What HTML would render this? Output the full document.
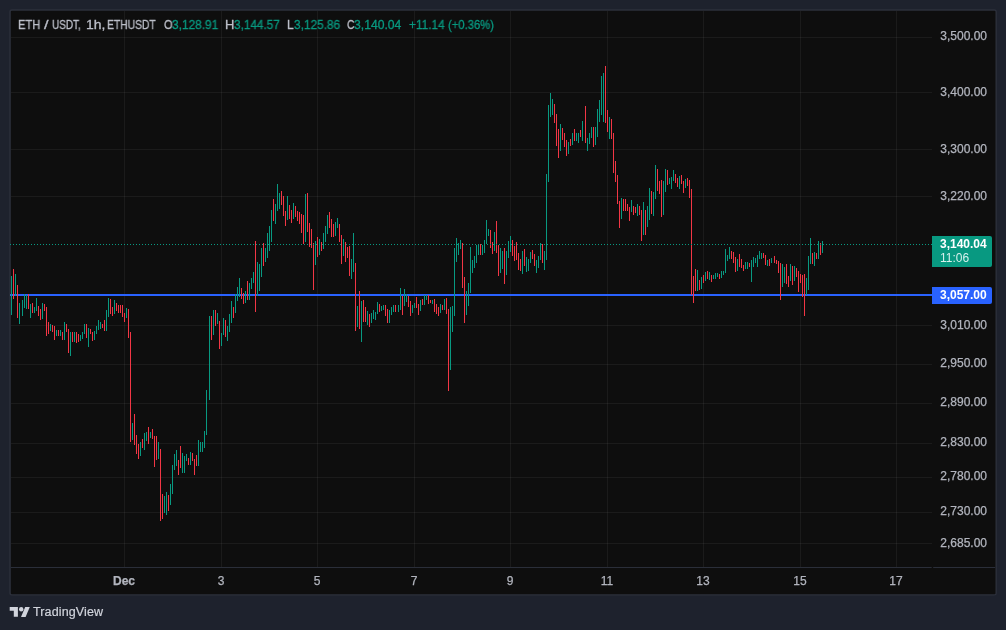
<!DOCTYPE html>
<html><head><meta charset="utf-8"><title>ETHUSDT</title>
<style>
html,body{margin:0;padding:0;background:#1e222d;}
body{width:1006px;height:630px;background:#1e222d;position:relative;overflow:hidden;font-family:"Liberation Sans",sans-serif;}
svg{position:absolute;left:0;top:0;}
.pl{position:absolute;left:932px;width:55px;text-align:right;font-size:12px;line-height:16px;color:#b2b5be;}
.tl{position:absolute;top:573px;width:60px;text-align:center;font-size:12px;line-height:16px;color:#b2b5be;}
.tl.b{font-weight:bold;}
.lg{position:absolute;top:17px;font-size:12px;line-height:16px;color:#bcbfc9;white-space:nowrap;transform-origin:0 0;display:block;-webkit-text-stroke:0.3px;will-change:transform;}
.lg.v{color:#089981;}
#cur{position:absolute;left:932px;top:236px;width:60px;height:31px;background:#089981;border-radius:0 2px 2px 0;color:#fff;font-size:12px;}
#cur div{position:absolute;left:8px;white-space:nowrap;line-height:14px;}
#lvl{position:absolute;left:932px;top:287px;width:60px;height:17px;background:#2962ff;border-radius:0 2px 2px 0;color:#fff;font-size:12px;font-weight:bold;}
#lvl div{position:absolute;left:8px;top:1px;line-height:15px;white-space:nowrap;}
#logo{position:absolute;left:32.5px;top:603.4px;font-size:12.5px;line-height:18px;color:#d1d4dc;letter-spacing:0.13px;-webkit-text-stroke:0.2px;}
.pl,.tl,#logo,#cur div,#lvl div{will-change:transform;}
.pl,.tl{-webkit-text-stroke:0.25px;}
</style></head><body>
<svg width="1006" height="630" viewBox="0 0 1006 630">
<rect x="9.3" y="9.3" width="987.5" height="586.3" rx="2.5" fill="#2c303b"/><rect x="10.8" y="10.8" width="984.7" height="583.4" rx="1" fill="#0e0e0e"/>
<path d="M124.5 11V567" stroke="rgba(255,255,255,0.055)" stroke-width="1" shape-rendering="crispEdges"/><path d="M221.5 11V567" stroke="rgba(255,255,255,0.055)" stroke-width="1" shape-rendering="crispEdges"/><path d="M317.5 11V567" stroke="rgba(255,255,255,0.055)" stroke-width="1" shape-rendering="crispEdges"/><path d="M414.5 11V567" stroke="rgba(255,255,255,0.055)" stroke-width="1" shape-rendering="crispEdges"/><path d="M510.5 11V567" stroke="rgba(255,255,255,0.055)" stroke-width="1" shape-rendering="crispEdges"/><path d="M607.5 11V567" stroke="rgba(255,255,255,0.055)" stroke-width="1" shape-rendering="crispEdges"/><path d="M703.5 11V567" stroke="rgba(255,255,255,0.055)" stroke-width="1" shape-rendering="crispEdges"/><path d="M800.5 11V567" stroke="rgba(255,255,255,0.055)" stroke-width="1" shape-rendering="crispEdges"/><path d="M896.5 11V567" stroke="rgba(255,255,255,0.055)" stroke-width="1" shape-rendering="crispEdges"/><path d="M11 37.5H932" stroke="rgba(255,255,255,0.055)" stroke-width="1" shape-rendering="crispEdges"/><path d="M11 92.5H932" stroke="rgba(255,255,255,0.055)" stroke-width="1" shape-rendering="crispEdges"/><path d="M11 149.5H932" stroke="rgba(255,255,255,0.055)" stroke-width="1" shape-rendering="crispEdges"/><path d="M11 196.5H932" stroke="rgba(255,255,255,0.055)" stroke-width="1" shape-rendering="crispEdges"/><path d="M11 325.5H932" stroke="rgba(255,255,255,0.055)" stroke-width="1" shape-rendering="crispEdges"/><path d="M11 364.5H932" stroke="rgba(255,255,255,0.055)" stroke-width="1" shape-rendering="crispEdges"/><path d="M11 403.5H932" stroke="rgba(255,255,255,0.055)" stroke-width="1" shape-rendering="crispEdges"/><path d="M11 443.5H932" stroke="rgba(255,255,255,0.055)" stroke-width="1" shape-rendering="crispEdges"/><path d="M11 477.5H932" stroke="rgba(255,255,255,0.055)" stroke-width="1" shape-rendering="crispEdges"/><path d="M11 512.5H932" stroke="rgba(255,255,255,0.055)" stroke-width="1" shape-rendering="crispEdges"/><path d="M11 543.5H932" stroke="rgba(255,255,255,0.055)" stroke-width="1" shape-rendering="crispEdges"/>
<path d="M10.7 567.5H931.7M933.2 567.5H995.3" stroke="#2a2e39" stroke-width="1"/>
<rect x="10" y="294" width="922" height="2" fill="#2962ff" shape-rendering="crispEdges"/>
<path d="M11.5 276V315M15.5 274V296M19.5 303V324M22.5 300V316M24.5 294V308M26.5 295V309M30.5 304V318M34.5 307V313M36.5 298V311M42.5 303V319M50.5 324V331M56.5 330V336M60.5 330V336M64.5 322V340M70.5 332V356M74.5 332V342M80.5 335V341M82.5 332V339M84.5 324V334M88.5 328V347M94.5 331V340M96.5 326V334M98.5 320V330M100.5 322V329M106.5 310V331M108.5 298V317M114.5 300V314M126.5 308V318M132.5 423V440M140.5 442V456M144.5 433V450M146.5 432V441M150.5 432V438M158.5 442V459M164.5 496V513M166.5 492V515M170.5 484V505M172.5 465V494M174.5 454V470M176.5 450V466M182.5 453V473M184.5 456V473M186.5 454V461M190.5 452V465M198.5 440V466M200.5 442V452M202.5 442V452M204.5 431V448M206.5 390V435M209.5 316V400M213.5 310V335M217.5 313V324M221.5 333V346M223.5 318V335M227.5 326V341M229.5 314V332M231.5 301V323M235.5 294V313M237.5 287V301M239.5 278V297M245.5 291V303M249.5 283V300M251.5 278V289M253.5 272V283M257.5 262V296M259.5 264V291M261.5 248V277M265.5 248V262M267.5 233V258M269.5 226V251M271.5 210V242M275.5 204V224M277.5 184V211M279.5 193V209M287.5 196V220M293.5 203V219M305.5 194V242M315.5 241V265M319.5 239V255M323.5 233V249M325.5 226V242M327.5 215V234M335.5 222V236M337.5 218V228M343.5 239V256M351.5 259V279M353.5 233V272M357.5 306V327M361.5 301V342M367.5 311V325M371.5 313V323M373.5 310V319M375.5 312V320M377.5 302V314M381.5 306V311M383.5 305V310M389.5 310V323M391.5 307V315M393.5 305V312M398.5 305V312M400.5 288V310M404.5 289V306M406.5 294V302M412.5 305V313M414.5 303V308M420.5 300V311M424.5 295V305M426.5 295V300M432.5 300V304M440.5 304V313M444.5 299V310M450.5 307V370M452.5 306V332M454.5 248V316M456.5 238V262M458.5 243V255M460.5 240V249M466.5 291V315M468.5 283V306M470.5 247V293M472.5 260V273M474.5 256V268M476.5 245V263M478.5 244V255M482.5 245V255M484.5 240V253M486.5 220V244M488.5 229V236M494.5 232V251M500.5 248V273M502.5 251V269M506.5 251V275M508.5 241V258M510.5 236V252M522.5 251V274M526.5 257V272M528.5 259V271M530.5 252V263M536.5 260V273M538.5 256V268M540.5 243V260M544.5 251V270M546.5 174V260M548.5 105V182M550.5 93V117M552.5 99V115M560.5 124V151M568.5 142V154M572.5 133V145M576.5 133V141M578.5 133V143M582.5 121V141M587.5 138V151M589.5 133V144M591.5 127V138M595.5 127V145M597.5 109V137M599.5 100V122M601.5 76V115M603.5 73V122M609.5 117V139M621.5 198V219M631.5 200V212M637.5 204V216M643.5 202V235M647.5 206V227M649.5 188V220M653.5 192V216M655.5 165V199M663.5 181V215M665.5 169V192M669.5 178V184M671.5 177V189M673.5 170V181M679.5 176V189M685.5 179V188M697.5 270V291M701.5 277V289M705.5 272V281M709.5 272V280M713.5 275V279M715.5 273V279M717.5 273V277M721.5 271V278M723.5 271V275M725.5 249V273M727.5 255V261M729.5 247V259M737.5 259V271M745.5 262V269M747.5 262V269M751.5 260V282M753.5 257V267M755.5 258V263M757.5 255V267M759.5 251V259M761.5 253V259M767.5 260V266M771.5 258V263M782.5 264V287M784.5 267V283M790.5 264V281M794.5 266V281M806.5 278V295M808.5 256V290M810.5 238V264M814.5 252V266M818.5 241V259M822.5 241V253" stroke="#089981" stroke-width="1" fill="none" shape-rendering="crispEdges"/><path d="M13.5 269V299M17.5 285V318M28.5 294V309M32.5 303V313M38.5 306V316M40.5 309V320M44.5 304V311M46.5 307V336M48.5 322V334M52.5 325V332M54.5 326V340M58.5 330V336M62.5 332V340M66.5 324V332M68.5 329V353M72.5 332V342M76.5 332V343M78.5 334V342M86.5 324V338M90.5 329V334M92.5 332V341M102.5 324V328M104.5 320V331M110.5 299V314M112.5 307V316M116.5 303V311M118.5 305V313M120.5 305V313M122.5 305V317M124.5 313V322M128.5 309V338M130.5 332V442M134.5 414V445M136.5 435V454M138.5 444V459M142.5 439V448M148.5 427V444M152.5 429V439M154.5 436V467M156.5 436V460M160.5 449V521M162.5 494V519M168.5 495V511M178.5 460V475M180.5 446V468M188.5 458V465M192.5 453V461M194.5 459V475M196.5 455V466M211.5 316V340M215.5 310V326M219.5 321V349M225.5 320V337M233.5 307V318M241.5 288V299M243.5 293V304M247.5 281V300M255.5 241V312M263.5 243V266M273.5 199V221M281.5 191V205M283.5 196V216M285.5 211V226M289.5 205V219M291.5 210V223M295.5 206V217M297.5 211V221M299.5 212V224M301.5 214V233M303.5 215V244M307.5 193V232M309.5 223V247M311.5 229V248M313.5 243V290M317.5 237V257M321.5 242V251M329.5 212V228M331.5 219V237M333.5 224V237M339.5 224V242M341.5 235V264M345.5 242V262M347.5 247V258M349.5 246V276M355.5 263V331M359.5 291V329M363.5 300V322M365.5 307V322M369.5 314V327M379.5 304V312M385.5 305V316M387.5 309V323M395.5 305V312M402.5 296V315M408.5 296V307M410.5 301V316M416.5 297V308M418.5 304V315M422.5 299V305M428.5 295V304M430.5 300V303M434.5 299V312M436.5 304V314M438.5 307V316M442.5 305V310M446.5 298V314M448.5 309V391M462.5 243V288M464.5 277V323M480.5 244V255M490.5 230V248M492.5 242V254M496.5 221V253M498.5 245V276M504.5 248V284M512.5 240V256M514.5 246V261M516.5 242V260M518.5 253V270M520.5 259V271M524.5 249V266M532.5 250V259M534.5 254V266M542.5 244V263M554.5 104V123M556.5 114V146M558.5 129V158M562.5 128V140M564.5 133V147M566.5 140V156M570.5 139V146M574.5 129V141M580.5 130V137M585.5 106V143M593.5 127V147M605.5 66V123M607.5 110V132M611.5 119V139M613.5 133V173M615.5 161V182M617.5 175V204M619.5 201V228M623.5 199V211M625.5 199V211M627.5 204V211M629.5 207V221M633.5 206V215M635.5 207V213M639.5 206V215M641.5 210V241M645.5 210V235M651.5 191V214M657.5 169V191M659.5 181V194M661.5 180V217M667.5 170V185M675.5 174V183M677.5 178V187M681.5 175V184M683.5 181V193M687.5 178V186M689.5 180V198M691.5 189V295M693.5 276V303M695.5 269V291M699.5 280V290M703.5 275V283M707.5 271V279M711.5 275V282M719.5 274V279M731.5 251V259M733.5 252V263M735.5 257V272M739.5 254V267M741.5 259V268M743.5 265V271M749.5 263V267M763.5 253V258M765.5 255V265M769.5 259V266M774.5 256V263M776.5 260V264M778.5 261V273M780.5 263V300M786.5 264V284M788.5 276V287M792.5 266V285M796.5 268V277M798.5 271V292M800.5 274V283M802.5 275V297M804.5 274V316M812.5 253V264M816.5 253V259M820.5 243V255" stroke="#f23645" stroke-width="1" fill="none" shape-rendering="crispEdges"/>
<path d="M10 244.5H932" stroke="#089981" stroke-width="1" stroke-dasharray="1 2" shape-rendering="crispEdges"/>
<g fill="#d1d4dc"><path d="M9.7 607.1h8.2v9.6h-4.1v-5.9h-4.1z"/><circle cx="21.2" cy="609.2" r="2.2"/><path d="M25.2 607h4.6l-4.2 10h-4.6z"/></g>
</svg>
<div class="pl" style="top:27.5px">3,500.00</div><div class="pl" style="top:83.5px">3,400.00</div><div class="pl" style="top:140.5px">3,300.00</div><div class="pl" style="top:187.5px">3,220.00</div><div class="pl" style="top:316.5px">3,010.00</div><div class="pl" style="top:354.5px">2,950.00</div><div class="pl" style="top:393.5px">2,890.00</div><div class="pl" style="top:433.5px">2,830.00</div><div class="pl" style="top:467.5px">2,780.00</div><div class="pl" style="top:502.5px">2,730.00</div><div class="pl" style="top:534.5px">2,685.00</div>
<div class="tl b" style="left:94.0px">Dec</div><div class="tl" style="left:191.0px">3</div><div class="tl" style="left:287.0px">5</div><div class="tl" style="left:384.0px">7</div><div class="tl" style="left:480.0px">9</div><div class="tl" style="left:577.0px">11</div><div class="tl" style="left:673.0px">13</div><div class="tl" style="left:770.0px">15</div><div class="tl" style="left:866.0px">17</div>
<span class="lg" style="left:17.58px;transform:scaleX(0.934)">ETH</span><span class="lg" style="left:43.73px;transform:scaleX(1.356)">/</span><span class="lg" style="left:52.45px;transform:scaleX(0.831)">USDT,</span><span class="lg" style="left:85.95px;transform:scaleX(1.161)">1h,</span><span class="lg" style="left:107.06px;transform:scaleX(0.86)">ETHUSDT</span><span class="lg" style="left:163.71px;transform:scaleX(0.919)">O</span><span class="lg v" style="left:172.07px;transform:scaleX(0.99)">3,128.91</span><span class="lg" style="left:225.32px;transform:scaleX(1.077)">H</span><span class="lg v" style="left:234.28px;transform:scaleX(0.981)">3,144.57</span><span class="lg" style="left:287.02px;transform:scaleX(0.992)">L</span><span class="lg v" style="left:294.27px;transform:scaleX(0.988)">3,125.86</span><span class="lg" style="left:347.2px;transform:scaleX(0.859)">C</span><span class="lg v" style="left:354.16px;transform:scaleX(1.014)">3,140.04</span><span class="lg v" style="left:408.87px;transform:scaleX(0.987)">+11.14</span><span class="lg v" style="left:448.12px;transform:scaleX(0.938)">(+0.36%)</span>
<div id="cur"><div style="top:1px;font-weight:bold">3,140.04</div><div style="top:15px;color:#d6f0ec">11:06</div></div>
<div id="lvl"><div>3,057.00</div></div>
<div id="logo">TradingView</div>
</body></html>
